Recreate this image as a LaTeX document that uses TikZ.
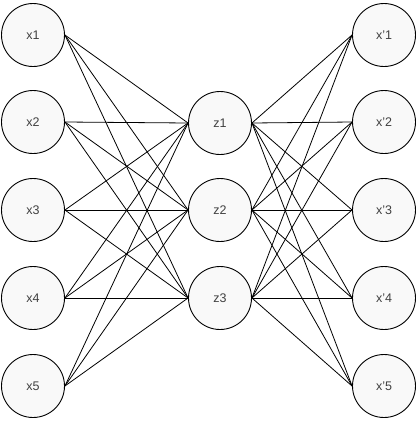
\documentclass[tikz,border=0pt]{standalone}
\usepackage{fontspec}
\setmainfont{Liberation Sans}
\begin{document}
\begin{tikzpicture}[x=1pt,y=-1pt,
  neuron/.style={circle,draw=black,line width=0.9pt,fill=gray!5,minimum size=63pt,inner sep=0pt,font=\fontsize{12.5}{14}\selectfont,text=black!75},
  link/.style={line width=0.8pt}]
\path[use as bounding box,fill=white] (0,0) rectangle (418,421);
\foreach \i/\y in {1/35,2/122,3/210,4/298,5/386}{
  \node[neuron] (x\i) at (33,\y) {x\i};
  \node[neuron] (y\i) at (384,\y) {x'\i};
}
\foreach \i/\y in {1/123,2/210,3/298}{
  \node[neuron] (z\i) at (220,\y) {z\i};
}
\foreach \i in {1,...,5}{
  \foreach \j in {1,2,3}{
    \draw[link] (x\i.east) -- (z\j.west);
    \draw[link] (z\j.east) -- (y\i.west);
  }
}
\end{tikzpicture}
\end{document}
